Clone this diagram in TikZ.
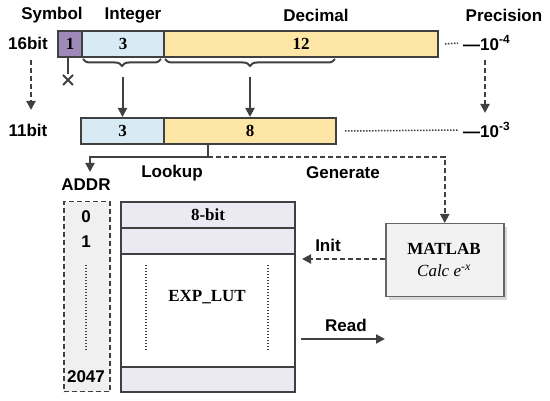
\documentclass[tikz,border=0pt]{standalone}
\usepackage{fontspec}
\setmainfont{Liberation Serif}
\setsansfont{Liberation Sans}
\usetikzlibrary{arrows.meta,decorations.pathreplacing,shadows}
\definecolor{bord}{HTML}{404040}
\definecolor{symc}{HTML}{9E8AB8}
\definecolor{intc}{HTML}{D8EAF3}
\definecolor{decc}{HTML}{FDE6A6}
\definecolor{lav}{HTML}{EBE9F2}
\definecolor{addrc}{HTML}{F0F0F0}
\definecolor{matc}{HTML}{F2F2F2}
\begin{document}
\begin{tikzpicture}[x=1pt,y=-1pt,
  lbl/.style={font=\fontsize{17}{20}\selectfont\sffamily\bfseries, inner sep=0pt, text=black},
  num/.style={font=\fontsize{17}{20}\selectfont\rmfamily\bfseries},
  cell/.style={draw=bord, line width=2pt, inner sep=0pt, anchor=north west, num},
  arr/.style={draw=bord, line width=2pt, -{Triangle[length=9pt,width=9pt]}},
  darr/.style={arr, dash pattern=on 5pt off 3pt},
  dotl/.style={draw=bord, line width=1.5pt, dash pattern=on 1.5pt off 1.5pt},
  brc/.style={draw=bord, line width=2pt, decorate, decoration={brace, mirror, amplitude=7pt}},
]
\useasboundingbox (0,0) rectangle (550,401);

% header labels
\node[lbl] (lsym) at (52,15) {Symbol};
\node[lbl] (lint) at (133,15) {Integer};
\node[lbl] (ldec) at (316,15) {Decimal};
\node[lbl] (lpre) at (504,15) {Precision};
\node[lbl] (l16) at (28,43) {16bit};
\node[lbl] (l11) at (28,130) {11bit};

% 16 bit row
\node[cell, fill=symc, minimum width=24pt, minimum height=26pt] (s16) at (57,30) {1};
\node[cell, fill=intc, minimum width=82pt, minimum height=26pt] (i16) at (81,30) {3};
\node[cell, fill=decc, minimum width=274pt, minimum height=26pt] (d16) at (163,30) {12};

% 11 bit row
\node[cell, fill=intc, minimum width=83pt, minimum height=26pt] (i11) at (80,117) {3};
\node[cell, fill=decc, minimum width=172pt, minimum height=26pt] (d11) at (163,117) {8};

% precision
\node[lbl, anchor=west] (p4) at (463,43) {—10\textsuperscript{-4}};
\node[lbl, anchor=west] (p3) at (463,130) {—10\textsuperscript{-3}};
\draw[dotl] ([xshift=6pt]d16.east) -- (458,43);
\draw[dotl] ([xshift=8pt]d11.east) -- (458,130);

% dashed down arrows
\coordinate (la) at (31,60);
\coordinate (lb) at (31,110);
\draw[darr] (la) -- (lb);
\coordinate (ra) at (485,60);
\coordinate (rb) at (485,113);
\draw[darr] (ra) -- (rb);

% braces
\draw[brc] (83,59) -- (161,59);
\draw[brc] (165,59) -- (335,59);
\coordinate (b1) at (122,70);
\draw[arr, shorten <=7pt] (i11.north |- b1) -- (i11.north);
\draw[arr, shorten <=7pt] (d11.north |- b1) -- (d11.north);

% symbol discarded
\coordinate (xm) at (68,80);
\draw[draw=bord, line width=2pt] (s16.south -| xm) -- (68,74);
\draw[draw=bord, line width=2pt] (63,75) -- (73,85) (63,85) -- (73,75);

% lookup / generate
\coordinate (j) at (208,157);
\coordinate (lk) at (90,172);
\draw[arr] (j |- d11.south) -- (j) -| (lk);
\node[lbl] (llook) at (172,173) {Lookup};
\node[lbl] (lgen) at (343,173) {Generate};

% ADDR column
\node[lbl] (laddr) at (86,185) {ADDR};
\node[draw=bord, fill=addrc, line width=1.5pt, dash pattern=on 5pt off 3pt, anchor=north west,
      minimum width=46pt, minimum height=190pt] (addr) at (63,201) {};
\node[lbl] (a0) at (86,217) {0};
\node[lbl] (a1) at (86,242) {1};
\node[lbl] (a2047) at (86,377) {2047};
\draw[dotl] (86,265) -- (86,351);

% LUT
\node[cell, fill=lav, minimum width=174pt, minimum height=26pt] (r1) at (120,201) {8-bit};
\node[cell, fill=lav, minimum width=174pt, minimum height=26pt] (r2) at (120,227) {};
\node[cell, fill=white, minimum width=174pt, minimum height=113pt] (r3) at (120,253) {};
\node[cell, fill=lav, minimum width=174pt, minimum height=25pt] (r4) at (120,366) {};
\node[num] (lut) at (207,297) {EXP\_LUT};
\draw[dotl] (146,265) -- (146,351);
\draw[dotl] (268,265) -- (268,351);

% MATLAB
\node[draw=gray!80!black, fill=matc, line width=1.5pt, anchor=north west,
      minimum width=118pt, minimum height=73pt,
      drop shadow={shadow xshift=3pt, shadow yshift=-3pt, fill=gray!60}] (mat) at (385,223) {};
\node[num] (mt1) at (444,249) {MATLAB};
\node[font=\fontsize{17}{20}\selectfont\rmfamily\itshape] (mt2) at (444,271) {Calc e\textsuperscript{-x}};
\draw[darr] (j) -| (mat.north);

% Init
\coordinate (ie) at (302,259);
\draw[darr] (mat.west |- ie) -- (ie);
\node[lbl] (linit) at (328,245) {Init};

% Read
\coordinate (rs) at (301,339);
\coordinate (re) at (385,339);
\draw[arr] (rs) -- (re);
\node[lbl] (lread) at (346,325) {Read};
\end{tikzpicture}
\end{document}
